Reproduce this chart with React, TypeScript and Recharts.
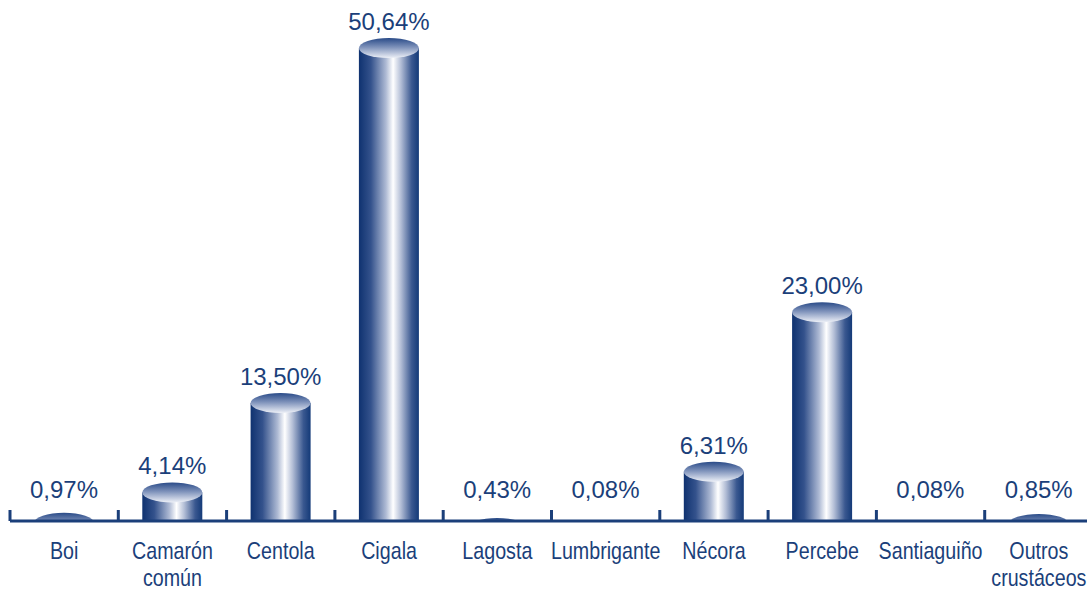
import { BarChart, Bar, XAxis, YAxis, LabelList } from 'recharts';

const categories = ['Boi', 'Camarón común', 'Centola', 'Cigala', 'Lagosta', 'Lumbrigante', 'Nécora', 'Percebe', 'Santiaguiño', 'Outros crustáceos'];
const categoryLines = [['Boi'], ['Camarón', 'común'], ['Centola'], ['Cigala'], ['Lagosta'], ['Lumbrigante'], ['Nécora'], ['Percebe'], ['Santiaguiño'], ['Outros', 'crustáceos']];
const shares = [0.97, 4.14, 13.5, 50.64, 0.43, 0.08, 6.31, 23.0, 0.08, 0.85];

const NAVY = '#1B3F7A';
const PLOT_LEFT = 10;
const PLOT_W = 1083;
const CHART_W = 1100;
const CHART_H = 593;
const STEP = PLOT_W / categories.length;
const CAP_RY = 10;
const CAP_DROP = 11;

const data = categories.map((name, i) => ({ name, idx: i, value: shares[i] }));

const fmt = (v: number) => v.toFixed(2).replace('.', ',') + '%';

function Cylinder(props: any) {
  const { x, y, width, height, index } = props;
  const bottom = y + height;
  const cy = y + CAP_DROP;
  const cx = x + width / 2;
  const clipId = `cyl-clip-${index}`;
  return (
    <g>
      <defs>
        <clipPath id={clipId}>
          <rect x={x - 2} y={cy - CAP_RY - 4} width={width + 4} height={Math.max(0, bottom - (cy - CAP_RY - 4))} />
        </clipPath>
      </defs>
      <g clipPath={`url(#${clipId})`}>
        {bottom > cy && <rect x={x} y={cy} width={width} height={bottom - cy} fill="url(#cylBody)" />}
        <ellipse cx={cx} cy={cy} rx={width / 2} ry={CAP_RY} fill="url(#cylCap)" />
      </g>
    </g>
  );
}

function ValueLabel(props: any) {
  const { x, y, width, value } = props;
  const capTop = y + CAP_DROP - CAP_RY;
  const center = Math.min(capTop - 17, 489);
  return (
    <text
      x={x + width / 2}
      y={center + 9}
      textAnchor="middle"
      fill={NAVY}
      fontSize={24}
      fontFamily='"Liberation Sans", Arial, sans-serif'
    >
      {fmt(value)}
    </text>
  );
}

function CategoryTick(props: any) {
  const { x, y, payload } = props;
  const lines = categoryLines[payload.index] ?? [payload.value];
  const bx = x - STEP / 2;
  return (
    <g>
      <line x1={bx} y1={y - 11} x2={bx} y2={y} stroke={NAVY} strokeWidth={3} />
      {lines.map((ln: string, k: number) => (
        <text
          key={k}
          transform={`translate(${x}, ${y + 38 + k * 27}) scale(0.82, 1)`}
          textAnchor="middle"
          fill={NAVY}
          fontSize={24}
          fontFamily='"Liberation Sans", Arial, sans-serif'
        >
          {ln}
        </text>
      ))}
    </g>
  );
}

export default function App() {
  return (
    <div style={{ position: 'fixed', left: 0, top: 0, width: 1087, height: CHART_H, overflow: 'hidden', background: '#fff' }}>
      <BarChart
        width={CHART_W}
        height={CHART_H}
        data={data}
        margin={{ top: 5, right: CHART_W - PLOT_LEFT - PLOT_W, left: PLOT_LEFT, bottom: 0 }}
        barCategoryGap={0}
      >
        <defs>
          <linearGradient id="cylBody" x1="0" y1="0" x2="1" y2="0">
            <stop offset="0%" stopColor="#0F3270" />
            <stop offset="20%" stopColor="#34528C" />
            <stop offset="45%" stopColor="#AEBAD4" />
            <stop offset="57%" stopColor="#FFFFFF" />
            <stop offset="70%" stopColor="#B3BED6" />
            <stop offset="88%" stopColor="#3A5890" />
            <stop offset="100%" stopColor="#143A78" />
          </linearGradient>
          <linearGradient id="cylCap" x1="0" y1="0" x2="0" y2="1">
            <stop offset="0%" stopColor="#2A4B88" />
            <stop offset="45%" stopColor="#7D91BA" />
            <stop offset="100%" stopColor="#EDF0F7" />
          </linearGradient>
        </defs>
        <XAxis
          dataKey="name"
          interval={0}
          height={72}
          tickSize={0}
          tickMargin={0}
          tickLine={false}
          axisLine={{ stroke: NAVY, strokeWidth: 3 }}
          tick={<CategoryTick />}
        />
        <YAxis hide domain={[0, 54]} />
        <Bar dataKey="value" barSize={60} shape={<Cylinder />} isAnimationActive={false}>
          <LabelList dataKey="value" content={<ValueLabel />} />
        </Bar>
      </BarChart>
    </div>
  );
}
